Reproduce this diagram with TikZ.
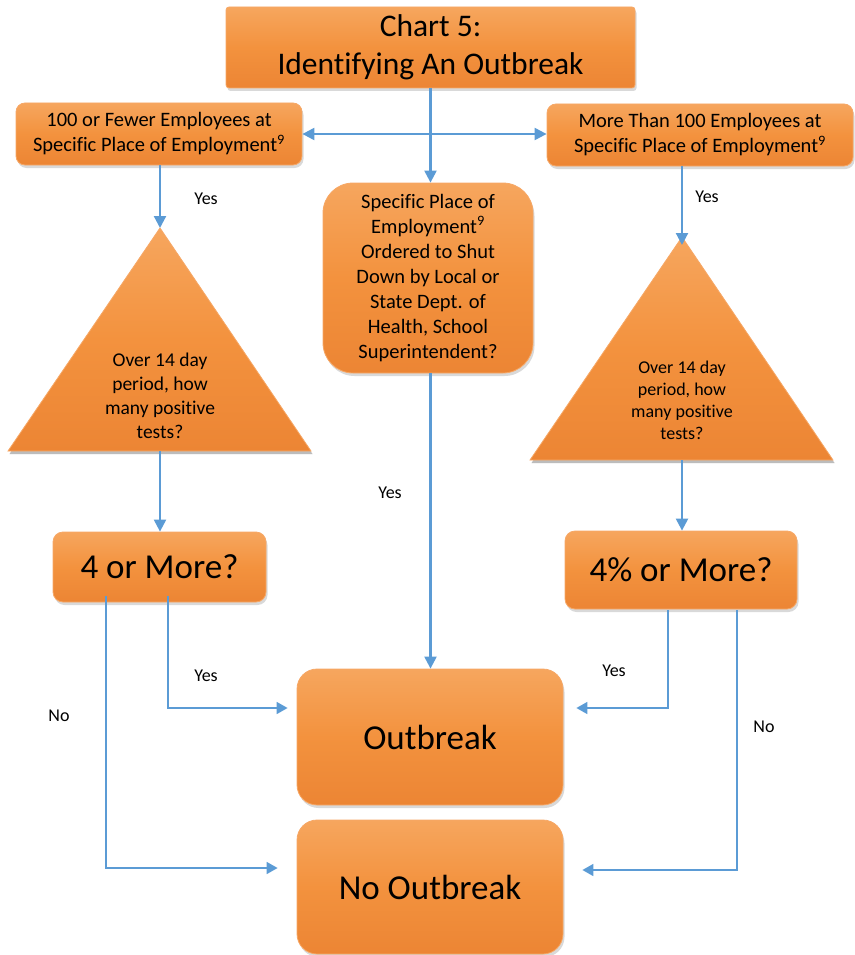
\documentclass[tikz,border=0pt]{standalone}
\usepackage{fontspec}
\setmainfont{Carlito}[Ligatures={NoCommon}]
\usetikzlibrary{arrows.meta,shadows,calc}
\definecolor{orL}{HTML}{F6A65E}
\definecolor{orM}{HTML}{F3923E}
\definecolor{orD}{HTML}{EC8534}
\definecolor{orE}{HTML}{F6A867}
\definecolor{lnB}{HTML}{5B9BD5}
\tikzset{
  obox/.style={draw=orE, line width=0.8pt, top color=orL, bottom color=orD, middle color=orM,
    drop shadow={shadow xshift=1.5pt, shadow yshift=-3pt, opacity=0.25, fill=black!60},
    align=center, inner sep=0pt, text=black},
  arr/.style={draw=lnB, line width=2.2pt, -{Triangle[length=12pt,width=12pt]}},
  darr/.style={draw=lnB, line width=2.2pt, {Triangle[length=12pt,width=12pt]}-{Triangle[length=12pt,width=12pt]}},
  conn/.style={draw=lnB, line width=1.6pt, -{Triangle[length=11pt,width=12pt]}},
  lab/.style={font=\fontsize{18}{21}\selectfont, text=black, inner sep=0pt},
}
\begin{document}
\begin{tikzpicture}[x=1pt,y=-1pt]
\useasboundingbox (0,0) rectangle (854,955);
% title
\node[obox, rounded corners=3pt, minimum width=409pt, minimum height=81pt,
  font=\fontsize{31.5}{38}\selectfont] (title) at (430.5,47.5) {Chart 5:\\Identifying An Outbreak};
% top boxes
\node[obox, rounded corners=9pt, minimum width=286pt, minimum height=62pt,
  font=\fontsize{20.5}{25}\selectfont] (lbox) at (159,134) {100 or Fewer Employees at\\Specific Place of Employment\textsuperscript{9}};
\node[obox, rounded corners=9pt, minimum width=306pt, minimum height=62pt,
  font=\fontsize{20.5}{25}\selectfont] (rbox) at (700,135) {More Than 100 Employees at\\Specific Place of Employment\textsuperscript{9}};
% middle box
\node[obox, rounded corners=30pt, minimum width=210pt, minimum height=190pt,
  font=\fontsize{20.5}{25}\selectfont] (mid) at (428,278) {Specific Place of\\Employment\textsuperscript{9}\\ Ordered to Shut\\Down by Local or\\State Dept. of\\Health, School\\Superintendent?};
% triangles
\coordinate (tLa) at (160,228);
\coordinate (tLb) at (160,451);
\fill[black!60, opacity=0.25] (161.5,231) -- (312.5,454) -- (9.5,454) -- cycle;
\path[obox] (tLa) -- (311,451) -- (8,451) -- cycle;
\node[font=\fontsize{19.5}{24}\selectfont, align=center, inner sep=0pt] (tLt) at (160,396) {Over 14 day\\period, how\\many positive\\tests?};
\coordinate (tRa) at (682,237);
\coordinate (tRb) at (682,460);
\fill[black!60, opacity=0.25] (683.5,240) -- (834.5,463) -- (531.5,463) -- cycle;
\path[obox] (tRa) -- (833,460) -- (530,460) -- cycle;
\node[font=\fontsize{18}{22}\selectfont, align=center, inner sep=0pt] (tRt) at (682,400) {Over 14 day\\period, how\\many positive\\tests?};
% decision boxes
\node[obox, rounded corners=10pt, minimum width=213pt, minimum height=70pt,
  font=\fontsize{35}{40}\selectfont] (four) at (159.5,567) {4 or More?};
\node[obox, rounded corners=10pt, minimum width=232pt, minimum height=78pt,
  font=\fontsize{35}{40}\selectfont] (pct) at (681,570) {4\% or More?};
% result boxes
\node[obox, rounded corners=20pt, minimum width=266pt, minimum height=136pt,
  font=\fontsize{35}{40}\selectfont] (out) at (430,737) {Outbreak};
\node[obox, rounded corners=20pt, minimum width=266pt, minimum height=134pt,
  font=\fontsize{35}{40}\selectfont] (nout) at (430,887) {No Outbreak};
% connectors
\draw[arr] (title.south) -- (title.south |- mid.north);
\draw[darr] (lbox.east) -- (lbox.east -| rbox.west);
\draw[arr] (lbox.south -| tLa) -- (tLa);
\draw[arr] (rbox.south -| tRa) -- ([yshift=-8pt]tRa);
\draw[arr] (tLb) -- (four.north -| tLb);
\draw[arr] (tRb) -- (pct.north -| tRb);
\draw[arr] (mid.south -| title.south) -- (out.north -| title.south);
\coordinate (LY) at (168,708);
\coordinate (LN) at (106,868);
\coordinate (RY) at (668,708);
\coordinate (RN) at (737,870);
\draw[conn] ([yshift=6pt]four.south -| LY) -- (LY) -- ([xshift=-9pt]out.west |- LY);
\draw[conn] ([yshift=6pt]four.south -| LN) -- (LN) -- ([xshift=-19pt]nout.west |- LN);
\draw[conn] ([yshift=-1pt]pct.south -| RY) -- (RY) -- ([xshift=13pt]out.east |- RY);
\draw[conn] ([yshift=-1pt]pct.south -| RN) -- (RN) -- ([xshift=19pt]nout.east |- RN);
% labels
\node[lab] (y1) at (206,199) {Yes};
\node[lab] (y2) at (707,197) {Yes};
\node[lab] (y3) at (390,493) {Yes};
\node[lab] (y4) at (206,676) {Yes};
\node[lab] (y5) at (614,671) {Yes};
\node[lab] (n1) at (59,716) {No};
\node[lab] (n2) at (764,727) {No};
\end{tikzpicture}
\end{document}
